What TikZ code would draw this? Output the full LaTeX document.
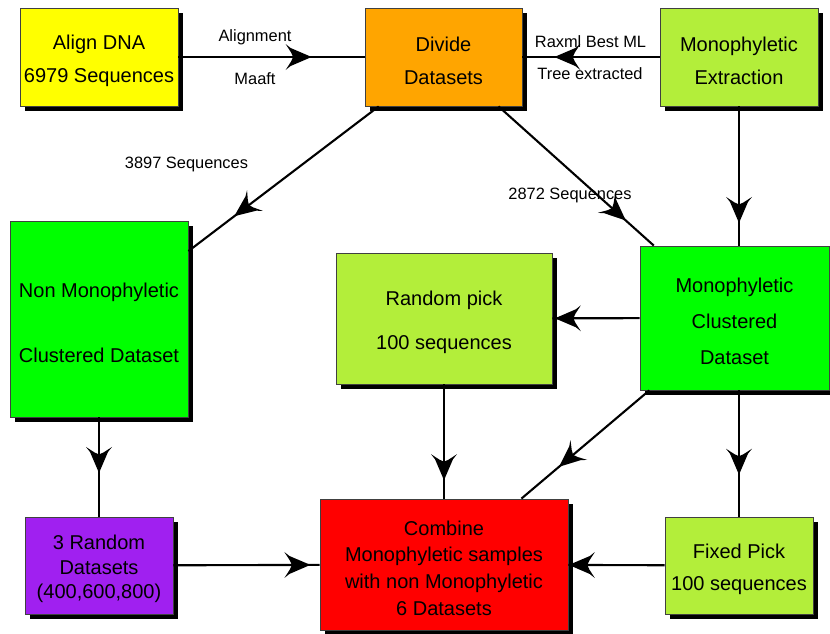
\documentclass[tikz,border=0pt]{standalone}
\usepackage{fontspec}
\setmainfont{Liberation Sans}
\usetikzlibrary{decorations.markings,shadows}
\definecolor{cyellow}{HTML}{FFFF00}
\definecolor{corange}{HTML}{FFA500}
\definecolor{clime}{HTML}{B3EE3A}
\definecolor{cgreen}{HTML}{00FF00}
\definecolor{cpurple}{HTML}{A020F0}
\definecolor{cred}{HTML}{FF0000}
% raises the first line's height so that the text block sits a little lower
\newcommand\strutup{\rule{0pt}{21.5pt}}
\begin{document}
\begin{tikzpicture}[x=1pt,y=-1pt,
  box/.style={draw=black!75, line width=0.8pt, align=center, inner sep=0pt,
    drop shadow={shadow xshift=5pt, shadow yshift=-5pt, fill=black, opacity=1}},
  link/.style={line width=2.1pt, draw=black},
  % a broad arrowhead with flared barbs, its tip at the given fraction of the connector
  tipat/.style={postaction={decorate}, decoration={markings,
    mark=at position #1 with {\fill[black]
      (1pt,0pt) -- (-20pt,9pt) -- (-25pt,13pt) -- (-19.5pt,4.5pt)
      -- (-17.5pt,0pt) -- (-19.5pt,-4.5pt) -- (-25pt,-13pt)
      -- (-20pt,-9pt) -- cycle;}}},
  lbl/.style={font=\fontsize{16.4}{19}\selectfont, inner sep=0pt}]
\useasboundingbox (0,0) rectangle (830,633);

% process boxes
\node[box, fill=cyellow, minimum width=158pt, minimum height=98pt,
  font=\fontsize{20}{33}\selectfont] (align) at (99,57) {\strutup Align DNA\\6979 Sequences};
\node[box, fill=corange, minimum width=157pt, minimum height=98pt,
  font=\fontsize{20}{33}\selectfont] (divide) at (443.5,57) {\strutup Divide\\Datasets};
\node[box, fill=clime, minimum width=158pt, minimum height=98pt,
  font=\fontsize{20}{33}\selectfont] (extract) at (739,57) {\strutup Monophyletic\\Extraction};
\node[box, fill=cgreen, minimum width=178pt, minimum height=196pt,
  font=\fontsize{20}{65}\selectfont] (nonmono) at (99,319) {\strutup Non Monophyletic\\Clustered Dataset};
\node[box, fill=clime, minimum width=216pt, minimum height=131pt,
  font=\fontsize{20}{44}\selectfont] (rpick) at (444,318.5) {\strutup Random pick\\100 sequences};
\node[box, fill=cgreen, minimum width=189pt, minimum height=144pt,
  font=\fontsize{20}{36}\selectfont] (mono) at (734.5,318) {\strutup Monophyletic\\Clustered\\Dataset};
\node[box, fill=cred, minimum width=248pt, minimum height=131pt,
  font=\fontsize{20}{26.7}\selectfont] (combine) at (444,564.5)
  {\strutup Combine\\Monophyletic samples\\with non Monophyletic\\6 Datasets};
\node[box, fill=cpurple, minimum width=148pt, minimum height=97pt,
  font=\fontsize{20}{24.5}\selectfont] (rand3) at (99,565.5) {\strutup 3 Random\\Datasets\\(400,600,800)};
\node[box, fill=clime, minimum width=148pt, minimum height=97pt,
  font=\fontsize{20}{32}\selectfont] (fixed) at (739,565.5) {\strutup Fixed Pick\\100 sequences};

% connectors
\draw[link, tipat=0.71] (align) -- (divide);
\draw[link, tipat=0.76] (extract) -- (divide);
\draw[link, tipat=0.755] (divide) -- (nonmono);
\draw[link, tipat=0.815] (divide) -- (mono);
\draw[link, tipat=0.83] (extract) -- (extract |- mono.north);
\draw[link, tipat=0.96] (mono) -- (rpick);
\draw[link, tipat=0.55] (nonmono) -- (rand3);
\draw[link, tipat=0.83] (rpick) -- (combine);
\draw[link, tipat=0.70] (mono) -- (combine);
\draw[link, tipat=0.66] (mono.south -| fixed) -- (fixed);
\draw[link, tipat=0.93] (rand3) -- (combine);
\draw[link, tipat=0.985] (fixed) -- (combine);

% connector labels
\node[lbl] (l1) at (255,37) {Alignment};
\node[lbl] (l2) at (255,79) {Maaft};
\node[lbl] (l3) at (590.5,41.5) {Raxml Best ML};
\node[lbl] (l4) at (590,74) {Tree extracted};
\node[lbl] (l5) at (186.5,164) {3897 Sequences};
\node[lbl] (l6) at (570,195) {2872 Sequences};
\end{tikzpicture}
\end{document}
